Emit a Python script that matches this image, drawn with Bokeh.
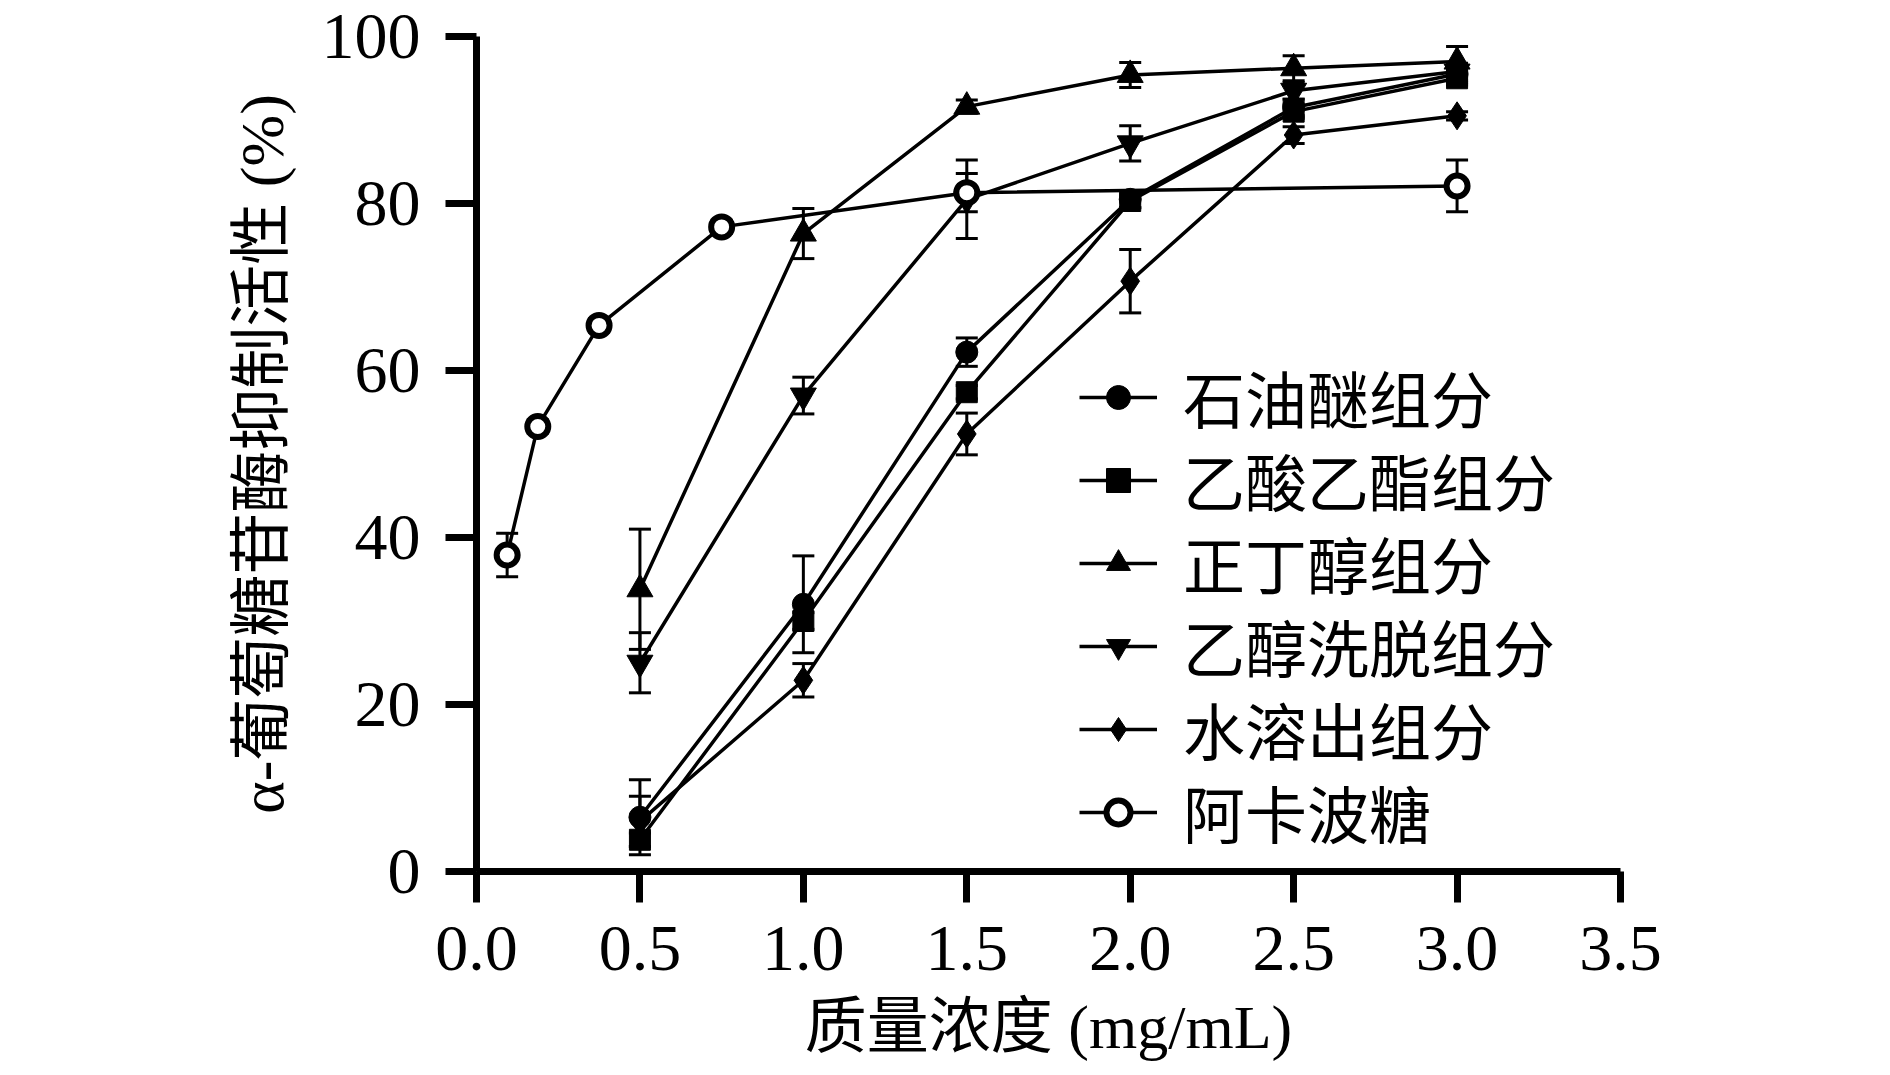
from bokeh.plotting import figure
from bokeh.models import (ColumnDataSource, Whisker, TeeHead, FixedTicker,
                          Legend, LegendItem, NumeralTickFormatter)
from bokeh.embed import file_html
from bokeh.resources import INLINE

# ---------------- data ----------------
conc = [0.5, 1.0, 1.5, 2.0, 2.5, 3.0]
conc_acarbose = [0.09375, 0.1875, 0.375, 0.75, 1.5, 3.0]

names = ["石油醚组分", "乙酸乙酯组分", "正丁醇组分", "乙醇洗脱组分", "水溶出组分", "阿卡波糖"]

pe_mean = [6.5, 32.0, 62.2, 80.5, 91.5, 95.5]
pe_err = [4.5, 5.8, 1.7, 1.0, 1.0, 1.0]
ea_mean = [3.8, 30.0, 57.4, 80.3, 91.0, 95.0]
ea_err = [0.8, 1.0, 0.8, 0.8, 0.8, 0.8]
nb_mean = [33.8, 76.4, 91.6, 95.4, 96.2, 97.0]
nb_err = [7.2, 3.0, 0.8, 1.5, 1.5, 1.8]
ee_mean = [25.0, 57.0, 80.5, 87.2, 93.5, 95.8]
ee_err = [3.6, 2.2, 4.7, 2.1, 1.0, 1.0]
ws_mean = [6.0, 22.9, 52.4, 70.7, 88.2, 90.5]
ws_err = [3.0, 2.0, 2.5, 3.8, 1.0, 0.5]
ac_mean = [37.9, 53.3, 65.4, 77.2, 81.3, 82.1]
ac_err = [2.6, 0.8, 0.8, 0.8, 2.3, 3.1]

x_ticks = [0.0, 0.5, 1.0, 1.5, 2.0, 2.5, 3.0, 3.5]
y_ticks = [0, 20, 40, 60, 80, 100]

x_label = "质量浓度 (mg/mL)"
y_label = "α-葡萄糖苷酶抑制活性 (%)"

# ---------------- figure ----------------
SERIF = "'Liberation Serif', 'Noto Sans CJK SC'"

p = figure(frame_width=1144, frame_height=835,
           x_range=(0, 3.5), y_range=(0, 100),
           output_backend="svg", toolbar_location=None,
           min_border_left=476, min_border_top=36,
           min_border_right=260, min_border_bottom=195)
p.outline_line_color = None
p.grid.visible = False
p.background_fill_color = "white"
p.border_fill_color = "white"

for ax in (p.xaxis[0], p.yaxis[0]):
    ax.axis_line_width = 7
    ax.axis_line_color = "black"
    ax.major_tick_line_width = 7
    ax.major_tick_line_color = "black"
    ax.major_tick_out = 31
    ax.major_tick_in = 0
    ax.minor_tick_line_color = None
    ax.major_label_text_font = SERIF
    ax.major_label_text_font_size = "66px"
    ax.major_label_text_color = "black"
    ax.axis_label_text_font = SERIF
    ax.axis_label_text_font_size = "62px"
    ax.axis_label_text_font_style = "normal"
    ax.axis_label_text_color = "black"

p.xaxis.ticker = FixedTicker(ticks=x_ticks)
p.xaxis.formatter = NumeralTickFormatter(format="0.0")
p.xaxis.major_label_standoff = 24
p.xaxis.axis_label = x_label
p.xaxis.axis_label_standoff = 20

p.yaxis.ticker = FixedTicker(ticks=y_ticks)
p.yaxis.formatter = NumeralTickFormatter(format="0")
p.yaxis.major_label_standoff = 25
p.yaxis.axis_label = y_label
p.yaxis.axis_label_standoff = 23

series = [
    (conc, pe_mean, pe_err, dict(marker="circle", size=22, fill_color="black", line_color="black", line_width=1)),
    (conc, ea_mean, ea_err, dict(marker="square", size=21, fill_color="black", line_color="black", line_width=1)),
    (conc, nb_mean, nb_err, dict(marker="triangle", size=26, fill_color="black", line_color="black", line_width=1)),
    (conc, ee_mean, ee_err, dict(marker="inverted_triangle", size=26, fill_color="black", line_color="black", line_width=1)),
    (conc, ws_mean, ws_err, dict(marker="diamond", size=28, fill_color="black", line_color="black", line_width=1)),
    (conc_acarbose, ac_mean, ac_err, dict(marker="circle", size=21, fill_color="white", line_color="black", line_width=6)),
]

line_rs = []
for (xs, ys, es, mk) in series:
    src = ColumnDataSource(dict(x=xs, y=ys,
                                upper=[v + e for v, e in zip(ys, es)],
                                lower=[v - e for v, e in zip(ys, es)]))
    lr = p.line("x", "y", source=src, line_color="black", line_width=3.5)
    w = Whisker(base="x", upper="upper", lower="lower", source=src,
                line_color="black", line_width=3,
                upper_head=TeeHead(size=22, line_width=3, line_color="black"),
                lower_head=TeeHead(size=22, line_width=3, line_color="black"))
    p.add_layout(w)
    line_rs.append((lr, src, mk))

# one legend box per row, so the row pitch matches the reference (83 px)
ROW_PITCH = 83
TOP_ROW_Y = 429
for i, ((lr, src, mk), name) in enumerate(zip(line_rs, names)):
    sr = p.scatter("x", "y", source=src, **mk)
    lg = Legend(items=[LegendItem(label=name, renderers=[lr, sr])],
                location=(603, TOP_ROW_Y - ROW_PITCH * i),
                glyph_width=78, glyph_height=60, label_height=60,
                spacing=0, padding=0, margin=0, label_standoff=26,
                label_text_font=SERIF, label_text_font_size="62px",
                label_text_color="black", label_text_baseline="middle",
                border_line_color=None, background_fill_alpha=0)
    p.add_layout(lg)

open("out.html", "w").write(file_html(p, INLINE))
